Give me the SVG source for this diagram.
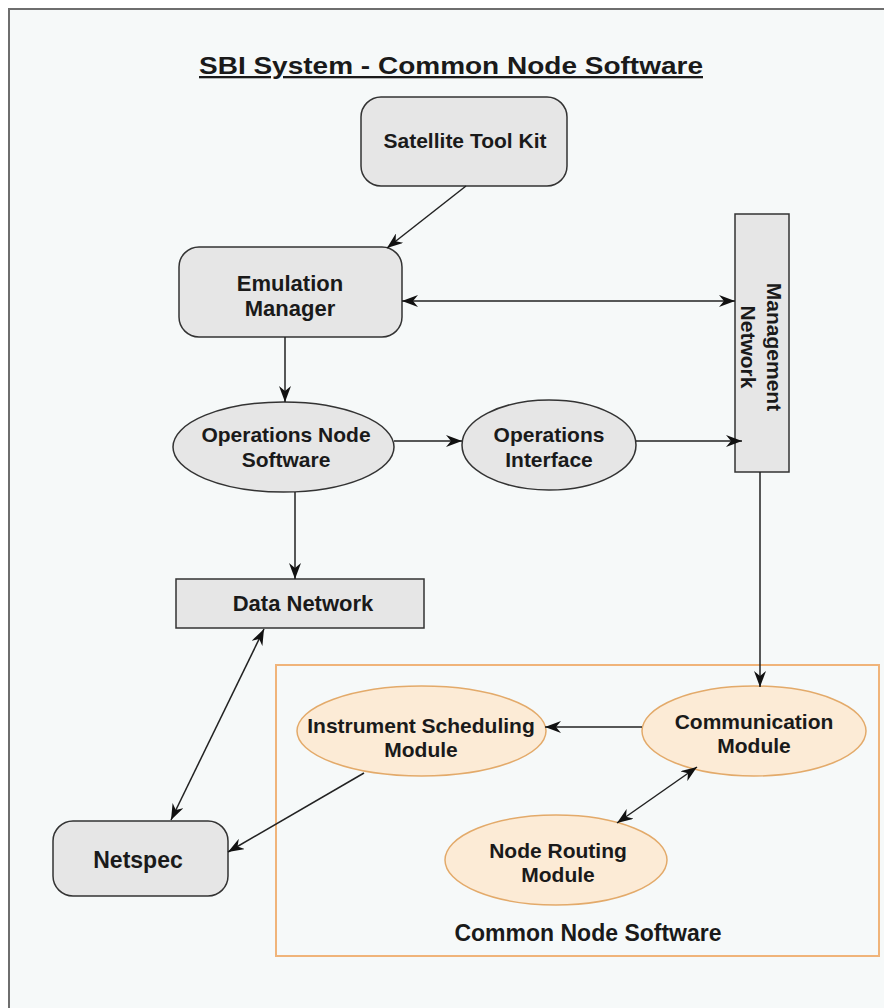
<svg xmlns="http://www.w3.org/2000/svg" width="884" height="1008" viewBox="0 0 884 1008">
<defs>
<marker id="arr" viewBox="0 0 16 12" refX="16" refY="6" markerWidth="16" markerHeight="12" markerUnits="userSpaceOnUse" orient="auto-start-reverse">
<path d="M0,0 L16,6 L0,12 L5,6 z" fill="#111"/>
</marker>
<style>
.lbl{font-family:"Liberation Sans",Arial,sans-serif;font-weight:bold;font-size:21px;fill:#1a1a1a;text-anchor:middle}
.gray{fill:#e6e6e6;stroke:#333;stroke-width:1.5}
.peach{fill:#fcebd6;stroke:#e3aa6a;stroke-width:1.5}
.con{fill:none;stroke:#222;stroke-width:1.5}
</style>
</defs>
<rect x="0" y="0" width="884" height="1008" fill="#ffffff"/>
<rect x="9" y="9" width="900" height="1020" fill="#f6f9f9" stroke="#6e6e6e" stroke-width="2"/>
<text x="451" y="74" style="font-family:'Liberation Sans',Arial,sans-serif;font-weight:bold;font-size:23px;fill:#1a1a1a;text-decoration:underline" text-anchor="middle" textLength="504" lengthAdjust="spacingAndGlyphs">SBI System - Common Node Software</text>

<g id="common-node-software">
<rect x="276" y="665" width="603" height="291" fill="none" stroke="#f0b47a" stroke-width="2"/>
<text class="lbl" x="588" y="941" style="font-size:23px">Common Node Software</text>
</g>

<g id="satellite-tool-kit">
<rect class="gray" x="361" y="97" width="206" height="89" rx="20"/>
<text class="lbl" x="465" y="148">Satellite Tool Kit</text>
</g>
<g id="emulation-manager">
<rect class="gray" x="179" y="247" width="223" height="90" rx="20"/>
<text class="lbl" x="290" y="291" style="font-size:22px">Emulation</text>
<text class="lbl" x="290" y="316" style="font-size:22px">Manager</text>
</g>
<g id="management-network">
<rect class="gray" x="735" y="214" width="54" height="258"/>
<text class="lbl" transform="translate(762,347) rotate(90)"><tspan x="0" y="-5">Management</tspan><tspan x="0" y="21">Network</tspan></text>
</g>
<g id="operations-node-software">
<ellipse class="gray" cx="283.5" cy="447" rx="110.5" ry="45"/>
<text class="lbl" x="286" y="442">Operations Node</text>
<text class="lbl" x="286" y="467">Software</text>
</g>
<g id="operations-interface">
<ellipse class="gray" cx="549" cy="445" rx="87" ry="45"/>
<text class="lbl" x="549" y="442">Operations</text>
<text class="lbl" x="549" y="467">Interface</text>
</g>
<g id="data-network">
<rect class="gray" x="176" y="579" width="248" height="49"/>
<text class="lbl" x="303" y="611" style="font-size:22px">Data Network</text>
</g>
<g id="netspec">
<rect class="gray" x="53" y="821" width="175" height="75" rx="20"/>
<text class="lbl" x="138" y="868" style="font-size:23px">Netspec</text>
</g>
<g id="instrument-scheduling-module">
<ellipse class="peach" cx="421.5" cy="731" rx="124.5" ry="45"/>
<text class="lbl" x="421" y="733">Instrument Scheduling</text>
<text class="lbl" x="421" y="757">Module</text>
</g>
<g id="communication-module">
<ellipse class="peach" cx="754" cy="731" rx="112" ry="45"/>
<text class="lbl" x="754" y="729">Communication</text>
<text class="lbl" x="754" y="753">Module</text>
</g>
<g id="node-routing-module">
<ellipse class="peach" cx="556" cy="860" rx="111" ry="45"/>
<text class="lbl" x="558" y="858">Node Routing</text>
<text class="lbl" x="558" y="882">Module</text>
</g>

<g id="connectors">
<path class="con" d="M466,186 L387,248" marker-end="url(#arr)"/>
<path class="con" d="M402,301 L735,301" marker-start="url(#arr)" marker-end="url(#arr)"/>
<path class="con" d="M285,337 L285,402" marker-end="url(#arr)"/>
<path class="con" d="M394,441 L462,441" marker-end="url(#arr)"/>
<path class="con" d="M636,441 L742,441" marker-end="url(#arr)"/>
<path class="con" d="M295,492 L295,579" marker-end="url(#arr)"/>
<path class="con" d="M760,472 L760,687" marker-end="url(#arr)"/>
<path class="con" d="M642,727 L545,727" marker-end="url(#arr)"/>
<path class="con" d="M697,767 L617,823" marker-start="url(#arr)" marker-end="url(#arr)"/>
<path class="con" d="M264,629 L171,820" marker-start="url(#arr)" marker-end="url(#arr)"/>
<path class="con" d="M364,773 L228,852" marker-end="url(#arr)"/>
</g>
</svg>
